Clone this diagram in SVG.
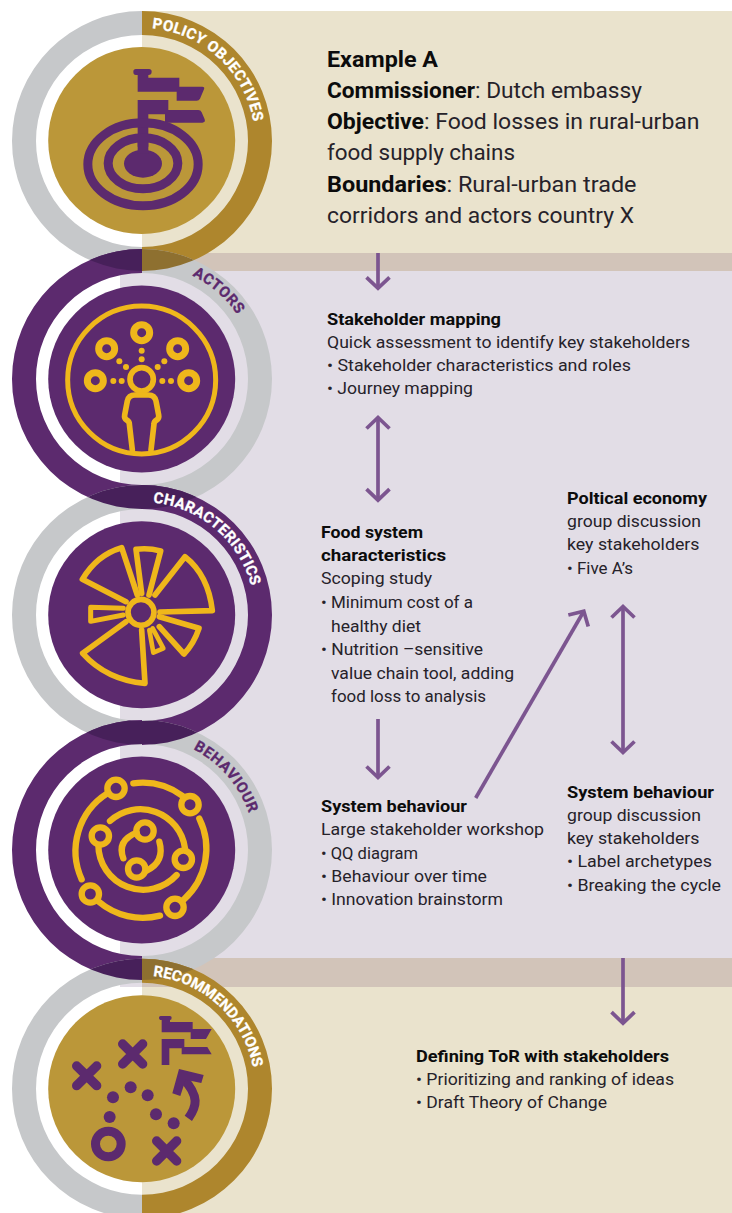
<svg xmlns="http://www.w3.org/2000/svg" xmlns:xlink="http://www.w3.org/1999/xlink" width="732" height="1213" viewBox="0 0 732 1213">
<style>
text{font-family:Roboto,"Liberation Sans",sans-serif;font-size:16.5px;fill:#26222a}
.b{font-weight:700;fill:#0c0c0c}
.l{font-size:21.5px}
.rt{font-size:15px;font-weight:700;fill:#fff;stroke:#fff;stroke-width:.3px}
.rp{font-size:15px;font-weight:700;fill:#5c2a6e;stroke:#5c2a6e;stroke-width:.3px}
.conn{fill:none;stroke:#7c5590;stroke-width:3.7}
.head{fill:none;stroke:#7c5590;stroke-width:3.7}
.g{fill:#c6c8ca}.p{fill:#5c2a6e}.o{fill:#ae862d}.d{fill:#47205a}.m{fill:#8e7030}
.cg{fill:#bb9739}
.ip{fill:#5c2a6e}
.iy{fill:none;stroke:#efb71b;stroke-linecap:round;stroke-linejoin:round}
.ipl{fill:none;stroke:#5c2a6e;stroke-linecap:round}
.dy{fill:#efb71b}
</style>
<defs>
<path id="rr" d="M142-130A130 130 0 0 1 142 130V106A106 106 0 0 0 142-106Z"/>
<path id="rl" d="M142-130A130 130 0 0 0 142 130V106A106 106 0 0 1 142-106Z"/>
<clipPath id="c1"><path clip-rule="evenodd" d="M12 141A130 130 0 1 1 272 141A130 130 0 1 1 12 141ZM36 141A106 106 0 1 0 248 141A106 106 0 1 0 36 141Z"/></clipPath>
<clipPath id="c2"><path clip-rule="evenodd" d="M12 379A130 130 0 1 1 272 379A130 130 0 1 1 12 379ZM36 379A106 106 0 1 0 248 379A106 106 0 1 0 36 379Z"/></clipPath>
<clipPath id="c3"><path clip-rule="evenodd" d="M12 615A130 130 0 1 1 272 615A130 130 0 1 1 12 615ZM36 615A106 106 0 1 0 248 615A106 106 0 1 0 36 615Z"/></clipPath>
<clipPath id="c4"><path clip-rule="evenodd" d="M12 850A130 130 0 1 1 272 850A130 130 0 1 1 12 850ZM36 850A106 106 0 1 0 248 850A106 106 0 1 0 36 850Z"/></clipPath>
<path id="a1" d="M142 28A113 113 0 0 1 255 141"/>
<path id="a2" d="M142 264A115 115 0 0 1 257 379"/>
<path id="a3" d="M142 502A113 113 0 0 1 255 615"/>
<path id="a4" d="M142 737A113 113 0 0 1 255 850"/>
<path id="a5" d="M142 975.700A113 113 0 0 1 255 1088.700"/>
<marker id="arr" markerUnits="userSpaceOnUse" markerWidth="32" markerHeight="32" viewBox="-16 -16 32 32" refX="0" refY="0" orient="auto-start-reverse"><path class="head" d="M-11-11.500L0 0L-11 11.500"/></marker>
</defs>

<g id="panels">
<rect x="142" y="11" width="590" height="260" fill="#eae3cd"/>
<rect x="142" y="958" width="590" height="255" fill="#eae3cd"/>
<rect x="120" y="271" width="612" height="687" fill="#e2dde6"/>
<rect x="120" y="958" width="22" height="29" fill="#e2dde6"/>
<rect x="142" y="253" width="590" height="18" fill="#d2c4b9"/>
<rect x="142" y="958" width="590" height="29" fill="#d2c4b9"/>
</g>

<g id="node-policy-objectives">
<use xlink:href="#rl" y="141" class="g"/><use xlink:href="#rr" y="141" class="o"/>
<circle cx="141.700" cy="140.500" r="93.500" class="cg"/>
<g transform="scale(.33333)">
<path class="ip" d="M400 215Q400 207 408 207H447Q455 207 455 215Q455 225 445 225V233H538V260H607Q615 260 612 268L600 296Q597 302 590 302H530V275H413V225H408Q400 225 400 215ZM413 300H505V330H595Q602 330 605 337L614 358Q617 368 607 368H495V343H445V440H413Z"/>
<ellipse cx="429" cy="493" rx="165.500" ry="124.500" fill="none" stroke="#5c2a6e" stroke-width="27"/>
<ellipse cx="429" cy="490" rx="104.500" ry="76.500" fill="none" stroke="#5c2a6e" stroke-width="27"/>
<ellipse cx="429" cy="491" rx="57" ry="42" class="ip"/>
<rect x="413" y="420" width="32" height="40" class="ip"/>
</g>
<text class="rt"><textPath xlink:href="#a1" startOffset="10" textLength="148">POLICY OBJECTIVES</textPath></text>
</g>

<g id="node-actors">
<use xlink:href="#rl" y="379" class="p"/><use xlink:href="#rr" y="379" class="g"/>
<g clip-path="url(#c1)"><use xlink:href="#rl" y="379" class="d"/><use xlink:href="#rr" y="379" class="m"/></g>
<circle cx="141.700" cy="379" r="93.500" class="p"/>
<g transform="translate(0 240) scale(.33333)">
<g class="iy">
<circle cx="425" cy="420" r="222" stroke-width="15"/>
<g stroke-width="21"><circle cx="425" cy="278" r="24"/><circle cx="320" cy="326" r="24"/><circle cx="533" cy="326" r="24"/><circle cx="286" cy="422" r="24"/><circle cx="566" cy="422" r="24"/></g>
<circle cx="425" cy="418" r="35" stroke-width="17"/>
<path stroke-width="17" d="M397 630L388 552Q388 545 380 540Q372 535 374 525L382 483Q386 465 405 465H445Q464 465 468 483L476 525Q478 535 470 540Q462 545 462 552L453 630"/>
</g>
<g class="dy"><circle cx="425" cy="332" r="9"/><circle cx="425" cy="358" r="9"/><circle cx="358" cy="364" r="9"/><circle cx="378" cy="381" r="9"/><circle cx="493" cy="364" r="9"/><circle cx="473" cy="381" r="9"/><circle cx="340" cy="423" r="9"/><circle cx="365" cy="423" r="9"/><circle cx="487" cy="423" r="9"/><circle cx="513" cy="423" r="9"/></g>
</g>
<text class="rp"><textPath xlink:href="#a2" startOffset="52" textLength="60">ACTORS</textPath></text>
</g>

<g id="node-characteristics">
<use xlink:href="#rl" y="615" class="g"/><use xlink:href="#rr" y="615" class="p"/>
<g clip-path="url(#c2)"><use xlink:href="#rl" y="615" class="d"/><use xlink:href="#rr" y="615" class="d"/></g>
<circle cx="141.700" cy="614.700" r="93.500" class="p"/>
<g transform="translate(0 480) scale(.33333)" class="iy" stroke-width="17">
<circle cx="423" cy="397" r="39"/>
<path d="M378 365L247 298Q290 225 365 203L412 345"/>
<path d="M425 340L408 208Q445 203 482 213L447 345"/>
<path d="M465 345L555 230Q625 285 637 392L480 396"/>
<path d="M478 410L597 445Q582 490 552 522L478 440"/>
<path stroke-width="14" d="M448 450L460 518L490 505L458 445"/>
<path d="M378 425L248 520Q320 600 435 610L425 450"/>
<path stroke-width="15" d="M370 385L272 382L272 424L370 405"/>
</g>
<text class="rt"><textPath xlink:href="#a3" startOffset="11" textLength="137">CHARACTERISTICS</textPath></text>
</g>

<g id="node-behaviour">
<use xlink:href="#rl" y="850" class="p"/><use xlink:href="#rr" y="850" class="g"/>
<g clip-path="url(#c3)"><use xlink:href="#rl" y="850" class="d"/><use xlink:href="#rr" y="850" class="d"/></g>
<circle cx="141.700" cy="850" r="93.500" class="p"/>
<g transform="translate(0 720) scale(.33333)" class="iy" stroke-width="19">
<circle cx="348" cy="205" r="26"/><circle cx="570" cy="254" r="26"/><circle cx="301" cy="348" r="26"/><circle cx="435" cy="333" r="26"/><circle cx="550" cy="418" r="26"/><circle cx="410" cy="447" r="26"/><circle cx="271" cy="522" r="26"/><circle cx="525" cy="562" r="26"/>
<path d="M400 190A205 205 0 0 1 548 228"/>
<path d="M598 296A205 205 0 0 1 552 538"/>
<path d="M296 545A205 205 0 0 0 480 587"/>
<path d="M245 478A205 205 0 0 1 322 220"/>
<path d="M330 303A135 135 0 0 1 555 385"/>
<path d="M295 375A135 135 0 0 0 530 465"/>
<path d="M370 415Q350 362 410 338"/>
<path d="M478 365Q495 425 440 452"/>
</g>
<text class="rp"><textPath xlink:href="#a4" startOffset="53" textLength="87">BEHAVIOUR</textPath></text>
</g>

<g id="node-recommendations">
<use xlink:href="#rl" y="1088.700" class="g"/><use xlink:href="#rr" y="1088.700" class="o"/>
<g clip-path="url(#c4)"><use xlink:href="#rl" y="1088.700" class="d"/><use xlink:href="#rr" y="1088.700" class="m"/></g>
<circle cx="141.700" cy="1088.700" r="93.500" class="cg"/>
<g transform="translate(0 955) scale(.33333)">
<g class="ipl" stroke-width="28"><path d="M230 333L290 392M290 333L230 392"/><path d="M368 267L428 327M428 267L368 327"/><path d="M470 558L530 618M530 558L470 618"/></g>
<circle cx="325" cy="567" r="38.500" fill="none" stroke="#5c2a6e" stroke-width="27"/>
<g class="ip"><circle cx="339" cy="427" r="18"/><circle cx="392" cy="397" r="18"/><circle cx="443" cy="421" r="18"/><circle cx="329" cy="486" r="18"/><circle cx="468" cy="478" r="18"/><circle cx="521" cy="505" r="18"/></g>
<path fill="none" stroke="#5c2a6e" stroke-width="27" d="M565 490C590 455 600 425 548 368"/>
<path class="ip" d="M537 342L611 360L604 384L557 374L541 423L517 415Z"/>
<path class="ip" d="M477 188Q477 183 482 183H510Q515 183 515 188Q515 195 510 195V201H578V222H635L618 252H572V232H485V195Q477 195 477 188ZM485 252H553V276H622L635 298H545V280H508V330H485Z"/>
</g>
<text class="rt"><textPath xlink:href="#a5" startOffset="11" textLength="145">RECOMMENDATIONS</textPath></text>
</g>

<g id="connectors">
<path class="conn" marker-end="url(#arr)" d="M378 253V288.300"/>
<path class="conn" marker-start="url(#arr)" marker-end="url(#arr)" d="M378 417.500V500.200"/>
<path class="conn" marker-end="url(#arr)" d="M378 719V777.500"/>
<path class="conn" marker-end="url(#arr)" d="M475.700 798L583.800 611.200"/>
<path class="conn" marker-start="url(#arr)" marker-end="url(#arr)" d="M623 606.500V752.500"/>
<path class="conn" marker-end="url(#arr)" d="M623 958V1023.200"/>
</g>

<g id="text-example">
<text x="327" y="66.500" class="l b" textLength="111" lengthAdjust="spacingAndGlyphs">Example A</text>
<text x="327" y="98" class="l" textLength="315" lengthAdjust="spacingAndGlyphs"><tspan class="b">Commissioner</tspan>: Dutch embassy</text>
<text x="327" y="129" class="l" textLength="372.500" lengthAdjust="spacingAndGlyphs"><tspan class="b">Objective</tspan>: Food losses in rural-urban</text>
<text x="327" y="160" class="l" textLength="188" lengthAdjust="spacingAndGlyphs">food supply chains</text>
<text x="327" y="192" class="l" textLength="309.500" lengthAdjust="spacingAndGlyphs"><tspan class="b">Boundaries</tspan>: Rural-urban trade</text>
<text x="327" y="223" class="l" textLength="307" lengthAdjust="spacingAndGlyphs">corridors and actors country X</text>
</g>
<g id="text-stakeholder-mapping">
<text x="327" y="324.500" class="b" textLength="174" lengthAdjust="spacingAndGlyphs">Stakeholder mapping</text>
<text x="327" y="347.500" textLength="363" lengthAdjust="spacingAndGlyphs">Quick assessment to identify key stakeholders</text>
<text x="327" y="370.500" textLength="304" lengthAdjust="spacingAndGlyphs">• Stakeholder characteristics and roles</text>
<text x="327" y="393.500" textLength="146" lengthAdjust="spacingAndGlyphs">• Journey mapping</text>
</g>
<g id="text-food-system">
<text x="321" y="537.500" class="b" textLength="102" lengthAdjust="spacingAndGlyphs">Food system</text>
<text x="321" y="561" class="b" textLength="125" lengthAdjust="spacingAndGlyphs">characteristics</text>
<text x="321" y="583.500" textLength="111" lengthAdjust="spacingAndGlyphs">Scoping study</text>
<text x="321" y="608" textLength="152" lengthAdjust="spacingAndGlyphs">• Minimum cost of a</text>
<text x="331" y="632" textLength="90" lengthAdjust="spacingAndGlyphs">healthy diet</text>
<text x="321" y="655" textLength="162" lengthAdjust="spacingAndGlyphs">• Nutrition –sensitive</text>
<text x="331" y="678.500" textLength="183" lengthAdjust="spacingAndGlyphs">value chain tool, adding</text>
<text x="331" y="702" textLength="155" lengthAdjust="spacingAndGlyphs">food loss to analysis</text>
</g>
<g id="text-system-behaviour-left">
<text x="321" y="811.500" class="b" textLength="146" lengthAdjust="spacingAndGlyphs">System behaviour</text>
<text x="321" y="835" textLength="223" lengthAdjust="spacingAndGlyphs">Large stakeholder workshop</text>
<text x="321" y="858.500" textLength="97" lengthAdjust="spacingAndGlyphs">• QQ diagram</text>
<text x="321" y="882" textLength="166" lengthAdjust="spacingAndGlyphs">• Behaviour over time</text>
<text x="321" y="905" textLength="182" lengthAdjust="spacingAndGlyphs">• Innovation brainstorm</text>
</g>
<g id="text-political-economy">
<text x="567" y="503.500" class="b" textLength="140" lengthAdjust="spacingAndGlyphs">Poltical economy</text>
<text x="567" y="527" textLength="134" lengthAdjust="spacingAndGlyphs">group discussion</text>
<text x="567" y="550" textLength="132.500" lengthAdjust="spacingAndGlyphs">key stakeholders</text>
<text x="567" y="573.500" textLength="66" lengthAdjust="spacingAndGlyphs">• Five A’s</text>
</g>
<g id="text-system-behaviour-right">
<text x="567" y="797.500" class="b" textLength="147" lengthAdjust="spacingAndGlyphs">System behaviour</text>
<text x="567" y="820.500" textLength="134" lengthAdjust="spacingAndGlyphs">group discussion</text>
<text x="567" y="843.500" textLength="132.500" lengthAdjust="spacingAndGlyphs">key stakeholders</text>
<text x="567" y="867" textLength="145" lengthAdjust="spacingAndGlyphs">• Label archetypes</text>
<text x="567" y="891" textLength="154" lengthAdjust="spacingAndGlyphs">• Breaking the cycle</text>
</g>
<g id="text-defining-tor">
<text x="416" y="1061.500" class="b" textLength="253" lengthAdjust="spacingAndGlyphs">Defining ToR with stakeholders</text>
<text x="416" y="1084.500" textLength="258" lengthAdjust="spacingAndGlyphs">• Prioritizing and ranking of ideas</text>
<text x="416" y="1108" textLength="191" lengthAdjust="spacingAndGlyphs">• Draft Theory of Change</text>
</g>
</svg>
